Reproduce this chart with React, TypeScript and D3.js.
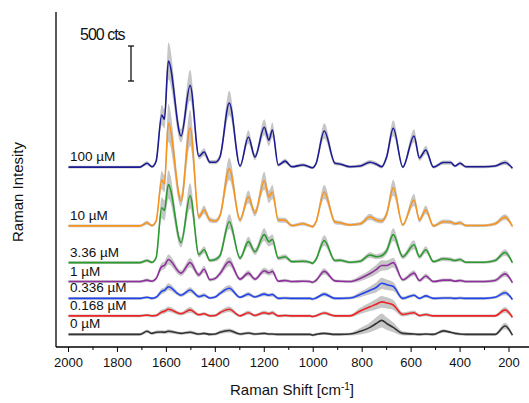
import React from "react";
import * as d3 from "d3";

// Raman shift grid (cm-1), shared by every spectrum
const shifts = [2000,1760,1708,1679,1659,1642,1619,1608,1592,1540,1503,1467,1446,1422,1400,1381,1343,1299,1265,1238,1200,1181,1167,1143,1115,1087,1042,1013,1003,989,955,911,891,850,808,768,743,720,700,673,634,588,566,540,509,468,438,421,400,376,300,257,216,186];

// mean intensities (cts above each trace's own baseline)
const conc100 = [0,0,0,55,5,85,745,685,1515,445,1170,155,215,70,70,145,915,15,430,145,570,385,530,30,85,5,30,0,-10,45,515,55,45,5,15,70,45,5,145,555,0,445,130,245,0,65,65,15,55,5,5,15,65,-15];
const conc10 = [0,0,0,45,5,70,655,600,1470,355,1400,130,230,85,70,145,815,85,415,185,645,415,485,85,80,5,30,0,-10,55,485,55,45,15,30,130,85,70,170,545,15,370,85,230,0,60,55,30,45,5,5,30,125,-5];
const conc336 = [0,0,0,30,5,70,785,745,1115,285,955,115,185,30,45,100,585,65,300,155,400,300,330,65,85,15,20,5,-10,45,315,30,35,5,20,110,85,100,170,400,85,255,85,185,15,55,45,30,45,5,5,30,145,0];
const conc1 = [0,0,0,20,5,45,215,230,315,120,270,95,175,25,45,115,285,35,120,35,155,125,145,5,15,0,5,0,-10,15,145,10,5,0,45,115,170,230,230,270,25,120,15,80,0,20,20,5,15,0,0,15,110,-15];
const conc0336 = [0,0,0,15,0,15,100,115,165,45,120,25,45,5,20,70,145,15,60,20,60,45,55,0,5,0,0,0,-10,5,60,0,0,5,55,115,155,215,195,170,0,45,0,35,0,5,5,0,5,0,0,15,80,-15];
const conc0168 = [0,0,0,10,0,5,55,65,95,30,85,15,30,0,5,45,95,0,45,5,45,30,45,0,5,0,0,0,-10,0,40,0,0,0,70,130,165,200,185,155,20,45,5,20,0,0,0,0,0,0,0,0,85,-20];
const conc0 = [0,0,0,45,15,30,35,30,45,15,30,5,15,0,5,30,55,5,20,5,15,5,5,0,0,0,0,0,-10,0,15,0,0,5,45,100,155,200,155,100,15,5,0,5,0,50,30,15,5,0,0,0,120,-10];

// standard deviations (cts)
const sd100 = [20,20,20,30,20,35,145,135,265,95,220,45,55,30,30,45,175,25,95,45,115,85,110,25,35,20,25,20,20,25,110,30,25,20,25,30,30,25,45,115,20,95,40,60,20,30,30,20,30,20,20,20,35,20];
const sd10 = [20,20,20,30,20,30,130,120,270,80,260,40,60,35,30,45,160,35,90,50,130,90,100,35,35,20,25,20,20,30,100,30,30,20,25,45,35,35,50,115,20,85,35,60,20,30,30,25,30,20,20,25,40,20];
const sd336 = [20,20,20,25,20,30,150,145,205,70,180,40,50,25,30,40,105,30,70,45,90,70,75,30,35,20,25,20,20,30,75,25,25,20,25,40,35,40,50,90,35,65,35,50,20,30,30,25,30,20,20,25,45,20];
const sd1 = [20,20,20,25,20,25,55,55,70,40,65,35,50,25,25,40,65,25,40,25,45,40,45,20,25,20,20,20,20,25,45,20,20,20,40,55,65,75,70,70,25,40,25,35,20,25,25,20,25,20,20,25,40,20];
const sd0336 = [20,20,20,20,20,20,40,40,50,25,40,25,30,20,20,30,45,20,30,20,30,25,30,20,20,20,20,20,20,20,30,20,20,20,40,55,70,80,75,65,25,25,20,25,20,20,20,20,20,20,20,20,35,20];
const sd0168 = [20,20,20,20,20,20,35,35,40,25,40,20,25,20,20,30,40,20,30,20,30,25,30,20,20,20,20,20,20,20,25,20,20,20,45,60,75,85,80,70,30,30,20,25,20,20,20,20,20,20,20,20,40,20];
const sd0 = [20,20,20,25,20,25,25,25,30,20,25,20,20,20,20,25,30,20,20,20,20,20,20,20,20,20,20,20,20,20,20,20,20,20,45,70,90,100,90,70,30,20,20,20,20,25,20,20,20,20,20,20,45,20];

const labels = ["100 \u00b5M", "10 \u00b5M", "3.36 \u00b5M", "1 \u00b5M", "0.336 \u00b5M", "0.168 \u00b5M", "0 \u00b5M"];
const offsets = [2570, 1730, 1205, 935, 695, 445, 180];
const colors = ["#1b1b93", "#f7941e", "#2b9b2f", "#8e2f9d", "#2244ee", "#ee2424", "#333333"];
const means = [conc100, conc10, conc336, conc1, conc0336, conc0168, conc0];
const sds = [sd100, sd10, sd336, sd1, sd0336, sd0168, sd0];

const xTicks = [2000, 1800, 1600, 1400, 1200, 1000, 800, 600, 400, 200];
const xMinor = [1900, 1700, 1500, 1300, 1100, 900, 700, 500, 300];

const W = 529;
const H = 403;
const left = 56;
const top = 12;
const bottom = 347;

const x = d3.scaleLinear().domain([2000, 200]).range([68.5, 509]);
const y = d3.scaleLinear().domain([0, 4786]).range([bottom, top]);

const font = "Arial, 'Liberation Sans', sans-serif";

export default function App() {
    const line = d3
        .line<number>()
        .x((_, i) => x(shifts[i]))
        .curve(d3.curveMonotoneX);

    return (
        <div style={{ position: "fixed", left: 0, top: 0 }}>
            <svg width={W} height={H} style={{ display: "block", background: "#fff" }}>
                {means.map((m, k) => {
                    const off = offsets[k];
                    const s = sds[k];
                    const band = d3
                        .area<number>()
                        .x((_, i) => x(shifts[i]))
                        .y0((v, i) => y(off + v - s[i]))
                        .y1((v, i) => y(off + v + s[i]))
                        .curve(d3.curveMonotoneX);
                    const path = line.y((v) => y(off + v));
                    return (
                        <g key={labels[k]}>
                            <path d={band(m) || ""} fill="#c6c6c6" />
                            <path d={path(m) || ""} fill="none" stroke={colors[k]} strokeWidth={1.6} />
                            <text
                                x={70}
                                y={y(off) - 6}
                                fontFamily={font}
                                fontSize={13.5}
                                fill="#111"
                            >
                                {labels[k]}
                            </text>
                        </g>
                    );
                })}

                {/* axes */}
                <line x1={left} x2={left} y1={top} y2={bottom} stroke="#000" strokeWidth={1.3} />
                <line x1={left} x2={W} y1={bottom} y2={bottom} stroke="#000" strokeWidth={1.3} />
                {xTicks.map((t) => (
                    <g key={t}>
                        <line x1={x(t)} x2={x(t)} y1={bottom} y2={bottom + 5} stroke="#000" />
                        <text
                            x={x(t)}
                            y={367}
                            textAnchor="middle"
                            fontFamily={font}
                            fontSize={13}
                            fill="#111"
                        >
                            {t}
                        </text>
                    </g>
                ))}
                {xMinor.map((t) => (
                    <line key={t} x1={x(t)} x2={x(t)} y1={bottom} y2={bottom + 3} stroke="#000" />
                ))}

                <text x={292} y={395} textAnchor="middle" fontFamily={font} fontSize={15} fill="#111">
                    Raman Shift [cm
                    <tspan dy={-5} fontSize={10}>-1</tspan>
                    <tspan dy={5}>]</tspan>
                </text>
                <text
                    transform={`translate(23,192) rotate(-90)`}
                    textAnchor="middle"
                    fontFamily={font}
                    fontSize={15}
                    fill="#111"
                >
                    Raman Intesity
                </text>

                {/* 500 cts scale bar */}
                <text x={80} y={40} fontFamily={font} fontSize={16} letterSpacing={-1} fill="#111">
                    500 cts
                </text>
                <g stroke="#111" strokeWidth={1.3}>
                    <line x1={131} x2={131} y1={y(4300)} y2={y(3800)} />
                    <line x1={128} x2={134} y1={y(4300)} y2={y(4300)} />
                    <line x1={128} x2={134} y1={y(3800)} y2={y(3800)} />
                </g>
            </svg>
        </div>
    );
}
